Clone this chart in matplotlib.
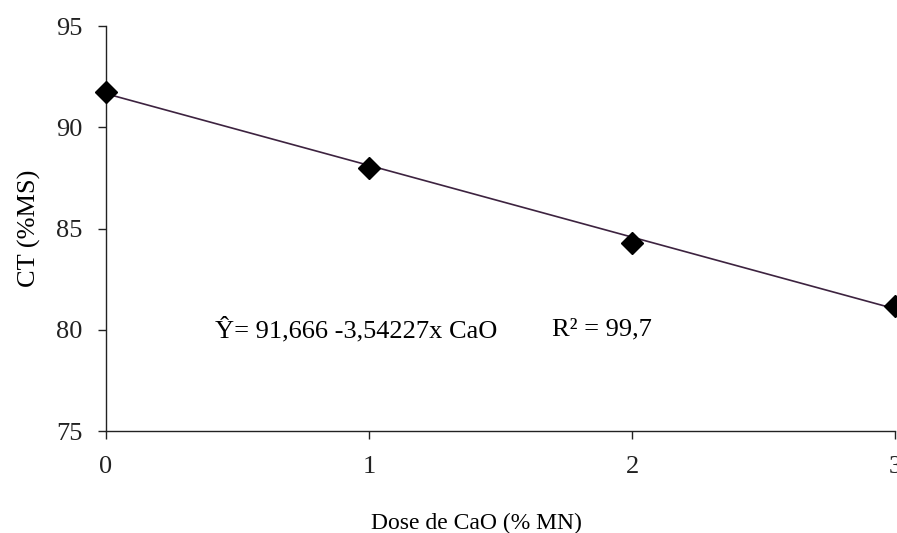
import matplotlib
matplotlib.use("Agg")
import matplotlib.pyplot as plt
import numpy as np

plt.rcParams['font.family'] = ['Liberation Serif', 'DejaVu Serif']

dose = [0, 1, 2, 3]
ct = [91.75, 88.0, 84.3, 81.2]
intercept = 91.666
slope = -3.54227
xticks = [0, 1, 2, 3]
yticks = [75, 80, 85, 90, 95]

fig = plt.figure(figsize=(8.97, 5.33), dpi=100)
ax = fig.add_axes([0.118, 0.191, 0.880, 0.760])

xf = np.array([0, 3])
ax.plot(xf, intercept + slope * xf, color='#3d2340', lw=1.2, clip_on=False, zorder=2)
ax.plot(dose, ct, linestyle='none', marker='D', markersize=11, color='black',
        clip_on=False, zorder=3)

ax.set_xlim(0, 3)
ax.set_ylim(75, 95)
ax.set_xticks(xticks)
ax.set_yticks(yticks)
ax.spines['top'].set_visible(False)
ax.spines['right'].set_visible(False)
for s in ['left', 'bottom']:
    ax.spines[s].set_linewidth(1.0)
    ax.spines[s].set_color('#222222')
ax.tick_params(direction='out', length=6, width=1.0, labelsize=19, pad=11, colors='#222222')
ax.tick_params(axis='x', pad=12)
ax.set_xlabel('Dose de CaO (% MN)', fontsize=17)
ax.xaxis.set_label_coords(0.469, -0.202)
ax.set_ylabel('CT (%MS)', fontsize=19, labelpad=11)

ax.text(0.415, 80.0, 'Ŷ= 91,666 -3,54227x CaO', fontsize=19, va='center', ha='left')
ax.text(1.695, 80.0, 'R² = 99,7', fontsize=19, va='center', ha='left')

fig.savefig('out.png', dpi=100)
